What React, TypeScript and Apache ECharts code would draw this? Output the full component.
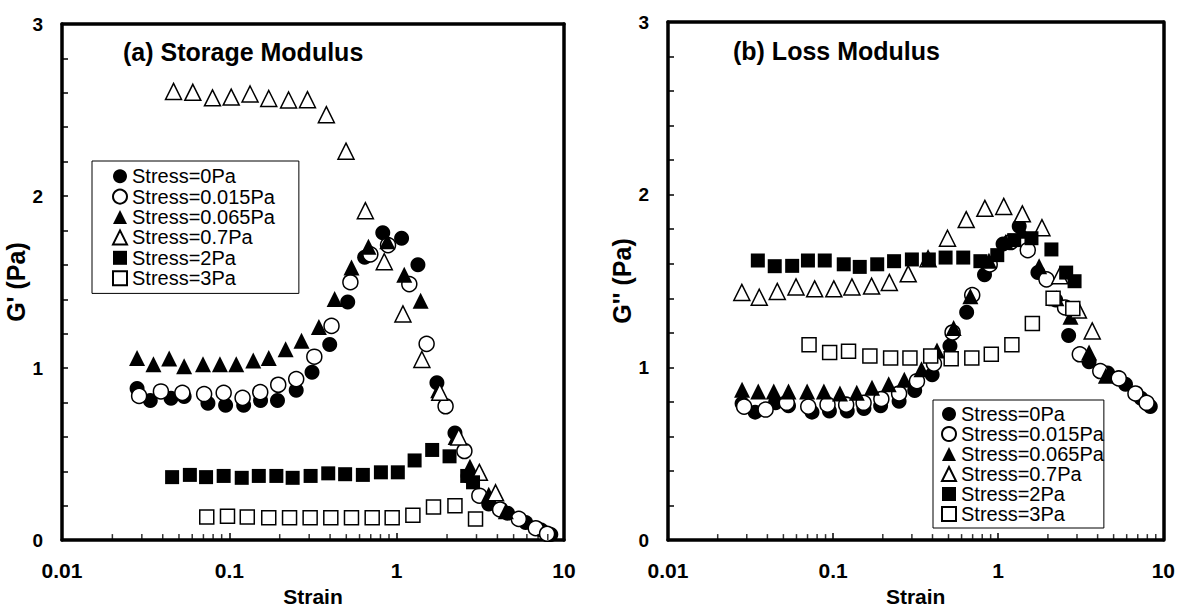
import React, { useEffect, useRef } from "react";
import * as echarts from "echarts";

const FONT = "'Liberation Sans', Arial, Helvetica, sans-serif";

const seriesNames = [
  "Stress=0Pa",
  "Stress=0.015Pa",
  "Stress=0.065Pa",
  "Stress=0.7Pa",
  "Stress=2Pa",
  "Stress=3Pa",
];

// ---------- (a) Storage modulus G' ----------
const gpStrain0 = [0.0281, 0.0337, 0.0448, 0.0537, 0.0745, 0.095, 0.1218, 0.1537, 0.194, 0.251, 0.312, 0.398, 0.51, 0.644, 0.826, 1.07, 1.34, 1.74, 2.23, 2.67, 3.55, 4.6, 5.9, 7.33, 8.34];
const gp0 = [0.881, 0.812, 0.825, 0.834, 0.795, 0.784, 0.784, 0.812, 0.812, 0.871, 0.975, 1.137, 1.384, 1.644, 1.787, 1.754, 1.601, 0.914, 0.622, 0.373, 0.21, 0.156, 0.102, 0.058, 0.032];

const gpStrain015 = [0.0289, 0.039, 0.0524, 0.0707, 0.0925, 0.12, 0.153, 0.196, 0.251, 0.322, 0.408, 0.529, 0.696, 0.888, 1.19, 1.51, 1.96, 2.54, 3.12, 4.15, 5.37, 6.78, 7.92];
const gp015 = [0.838, 0.864, 0.856, 0.849, 0.856, 0.827, 0.86, 0.903, 0.936, 1.066, 1.245, 1.499, 1.661, 1.715, 1.488, 1.141, 0.778, 0.518, 0.258, 0.178, 0.123, 0.069, 0.037];

const gpStrain065 = [0.0281, 0.0352, 0.0437, 0.0537, 0.0696, 0.0879, 0.11, 0.139, 0.172, 0.217, 0.27, 0.343, 0.426, 0.537, 0.678, 0.879, 1.11, 1.39, 1.77, 2.25, 2.74, 3.55, 4.49];
const gp065 = [1.059, 1.022, 1.055, 1.011, 1.022, 1.022, 1.022, 1.044, 1.059, 1.109, 1.159, 1.239, 1.401, 1.585, 1.705, 1.737, 1.542, 1.391, 0.871, 0.6, 0.427, 0.264, 0.167];

const gpStrain07 = [0.0464, 0.0605, 0.0793, 0.1026, 0.133, 0.172, 0.226, 0.293, 0.38, 0.498, 0.65, 0.843, 1.09, 1.415, 1.81, 2.35, 3.12, 3.9];
const gp07 = [2.608, 2.603, 2.571, 2.575, 2.593, 2.567, 2.558, 2.56, 2.473, 2.261, 1.915, 1.618, 1.315, 1.05, 0.86, 0.6, 0.394, 0.275];

const gpStrain2 = [0.0455, 0.0581, 0.0726, 0.0925, 0.1186, 0.15, 0.191, 0.239, 0.306, 0.39, 0.492, 0.628, 0.805, 1.016, 1.28, 1.63, 2.07, 2.64, 2.86];
const gp2 = [0.366, 0.379, 0.366, 0.373, 0.362, 0.373, 0.373, 0.362, 0.373, 0.388, 0.383, 0.379, 0.394, 0.394, 0.463, 0.524, 0.487, 0.373, 0.336];

const gpStrain3 = [0.0733, 0.0975, 0.128, 0.172, 0.229, 0.304, 0.404, 0.537, 0.714, 0.94, 1.25, 1.66, 2.23, 2.96];
const gp3 = [0.134, 0.139, 0.134, 0.13, 0.13, 0.13, 0.13, 0.13, 0.13, 0.13, 0.145, 0.193, 0.199, 0.123];

// ---------- (b) Loss modulus G'' ----------
const gppStrain0 = [0.0281, 0.0337, 0.0448, 0.0537, 0.0745, 0.095, 0.1218, 0.1537, 0.194, 0.251, 0.312, 0.398, 0.51, 0.644, 0.826, 1.07, 1.34, 1.74, 2.23, 2.67, 3.55, 4.6, 5.9, 7.33, 8.34];
const gpp0 = [0.791, 0.741, 0.795, 0.778, 0.741, 0.747, 0.747, 0.762, 0.778, 0.804, 0.866, 0.957, 1.124, 1.319, 1.536, 1.715, 1.817, 1.549, 1.39, 1.185, 1.033, 0.968, 0.903, 0.821, 0.773];

const gppStrain015 = [0.0289, 0.039, 0.0524, 0.0707, 0.0925, 0.12, 0.153, 0.196, 0.251, 0.322, 0.408, 0.529, 0.696, 0.888, 1.19, 1.51, 1.96, 2.54, 3.12, 4.15, 5.37, 6.78, 7.92];
const gpp015 = [0.773, 0.756, 0.795, 0.773, 0.784, 0.784, 0.795, 0.817, 0.849, 0.92, 1.022, 1.202, 1.419, 1.596, 1.726, 1.679, 1.51, 1.347, 1.076, 0.979, 0.936, 0.849, 0.795];

const gppStrain065 = [0.0281, 0.0352, 0.0437, 0.0537, 0.0696, 0.0879, 0.11, 0.139, 0.172, 0.217, 0.27, 0.343, 0.426, 0.537, 0.678, 0.879, 1.11, 1.39, 1.77, 2.25, 2.74, 3.55, 4.49];
const gpp065 = [0.871, 0.86, 0.86, 0.86, 0.86, 0.86, 0.849, 0.853, 0.882, 0.903, 0.929, 0.99, 1.098, 1.228, 1.412, 1.618, 1.726, 1.791, 1.585, 1.401, 1.293, 1.087, 0.951];

const gppStrain07 = [0.028, 0.0357, 0.0459, 0.0596, 0.0773, 0.101, 0.13, 0.171, 0.219, 0.285, 0.376, 0.493, 0.64, 0.83, 1.08, 1.4, 1.84, 2.36, 3.06, 3.71];
const gpp07 = [1.434, 1.406, 1.44, 1.466, 1.455, 1.455, 1.466, 1.471, 1.492, 1.542, 1.629, 1.748, 1.856, 1.921, 1.932, 1.889, 1.809, 1.531, 1.332, 1.211];

const gppStrain2 = [0.035, 0.0443, 0.0565, 0.0704, 0.089, 0.116, 0.145, 0.185, 0.234, 0.3, 0.38, 0.48, 0.614, 0.78, 0.987, 1.25, 1.59, 2.1, 2.58, 2.9];
const gpp2 = [1.619, 1.586, 1.588, 1.619, 1.619, 1.597, 1.582, 1.597, 1.615, 1.625, 1.625, 1.636, 1.636, 1.615, 1.65, 1.737, 1.748, 1.683, 1.549, 1.499];

const gppStrain3 = [0.0715, 0.0953, 0.124, 0.167, 0.223, 0.292, 0.39, 0.519, 0.692, 0.908, 1.21, 1.61, 2.15, 2.83];
const gpp3 = [1.131, 1.087, 1.094, 1.066, 1.055, 1.055, 1.066, 1.05, 1.055, 1.076, 1.131, 1.254, 1.401, 1.341];

// axis tick values
const strainLabels = [0.01, 0.1, 1, 10];
const strainMinorTicks = [
  0.02, 0.03, 0.04, 0.05, 0.06, 0.07, 0.08, 0.09,
  0.2, 0.3, 0.4, 0.5, 0.6, 0.7, 0.8, 0.9,
  2, 3, 4, 5, 6, 7, 8, 9,
];

const zip = (xs: number[], ys: number[]) => xs.map((x, i) => [x, ys[i]]);

const panelData = [
  [
    zip(gpStrain0, gp0),
    zip(gpStrain015, gp015),
    zip(gpStrain065, gp065),
    zip(gpStrain07, gp07),
    zip(gpStrain2, gp2),
    zip(gpStrain3, gp3),
  ],
  [
    zip(gppStrain0, gpp0),
    zip(gppStrain015, gpp015),
    zip(gppStrain065, gpp065),
    zip(gppStrain07, gpp07),
    zip(gppStrain2, gpp2),
    zip(gppStrain3, gpp3),
  ],
];

const markerStyles = [
  { symbol: "circle", size: 15, fill: "#000" },
  { symbol: "circle", size: 15, fill: "#fff" },
  { symbol: "triangle", size: 16, fill: "#000" },
  { symbol: "triangle", size: 16, fill: "#fff" },
  { symbol: "rect", size: 14, fill: "#000" },
  { symbol: "rect", size: 14, fill: "#fff" },
];

function buildOption() {
  const grids = [
    { left: 62, top: 24, width: 502, height: 542 },
    { left: 668, top: 22, width: 499, height: 539 },
  ];
  const yNames = ["G' (Pa)", "G'' (Pa)"];
  const yNameGaps = [24, 31];
  const boldText = { color: "#000", fontWeight: "bold", fontFamily: FONT };
  const frameLine = { show: true, onZero: false, lineStyle: { color: "#000", width: 3.5 } };

  const xAxis: any[] = [];
  const yAxis: any[] = [];
  grids.forEach((_, i) => {
    xAxis.push({
      type: "log",
      logBase: 10,
      min: strainLabels[0],
      max: strainLabels[strainLabels.length - 1],
      gridIndex: i,
      position: "bottom",
      axisLine: frameLine,
      axisTick: { show: true, inside: true, length: 7, lineStyle: { color: "#000", width: 1.5 } },
      axisLabel: { ...boldText, fontSize: 21, margin: 20, formatter: (v: number) => String(v) },
      splitLine: { show: false },
      name: "Strain",
      nameLocation: "middle",
      nameGap: 25,
      nameTextStyle: { ...boldText, fontSize: 21 },
    });
    yAxis.push({
      type: "value",
      min: 0,
      max: 3,
      interval: 1,
      gridIndex: i,
      position: "left",
      axisLine: frameLine,
      axisTick: { show: true, inside: true, length: 6, lineStyle: { color: "#000", width: 1.5 } },
      minorTick: { show: true, splitNumber: 5, length: 6, lineStyle: { color: "#000", width: 1.5 } },
      axisLabel: { ...boldText, fontSize: 19, margin: 19 },
      splitLine: { show: false },
      name: yNames[i],
      nameLocation: "middle",
      nameRotate: 90,
      nameGap: yNameGaps[i],
      nameTextStyle: { ...boldText, fontSize: 25 },
    });
  });
  // frame: top and right edges
  grids.forEach((_, i) => {
    xAxis.push({
      type: "log",
      logBase: 10,
      min: strainLabels[0],
      max: strainLabels[strainLabels.length - 1],
      gridIndex: i,
      position: "top",
      axisLine: frameLine,
      axisTick: { show: false },
      axisLabel: { show: false },
      splitLine: { show: false },
    });
    yAxis.push({
      type: "value",
      min: 0,
      max: 3,
      interval: 1,
      gridIndex: i,
      position: "right",
      axisLine: frameLine,
      axisTick: { show: false },
      axisLabel: { show: false },
      splitLine: { show: false },
    });
  });

  const series: any[] = [];
  panelData.forEach((sets, p) => {
    sets.forEach((data, s) => {
      const m = markerStyles[s];
      series.push({
        type: "scatter",
        name: seriesNames[s],
        xAxisIndex: p,
        yAxisIndex: p,
        symbol: m.symbol,
        symbolSize: m.size,
        itemStyle: { color: m.fill, borderColor: "#000", borderWidth: m.fill === "#fff" ? 1.5 : 0, opacity: 1 },
        data,
        clip: false,
        z: 2,
      });
    });
    series.push({
      type: "scatter",
      name: "minorTicks",
      xAxisIndex: p,
      yAxisIndex: p,
      silent: true,
      clip: false,
      symbol: "rect",
      symbolSize: [1.5, 6],
      symbolOffset: [0, -3],
      itemStyle: { color: "#000" },
      data: strainMinorTicks.map((v) => [v, 0]),
      z: 5,
    });
  });

  const legendBase = {
    data: seriesNames,
    orient: "vertical",
    itemWidth: 14,
    itemHeight: 14,
    itemGap: 0,
    borderColor: "#000",
    borderWidth: 1,
    backgroundColor: "#fff",
    selectedMode: false,
  };

  return {
    animation: false,
    backgroundColor: "#fff",
    title: [
      {
        text: "(a) Storage Modulus",
        left: 123,
        top: 39,
        padding: 0,
        textStyle: { ...boldText, fontSize: 25 },
      },
      {
        text: "(b) Loss Modulus",
        left: 733,
        top: 38,
        padding: 0,
        textStyle: { ...boldText, fontSize: 25 },
      },
    ],
    grid: grids.map((g) => ({ ...g, show: false })),
    legend: [
      {
        ...legendBase,
        left: 92,
        top: 161,
        padding: [5, 24, 5, 20],
        textStyle: { fontSize: 20, fontFamily: FONT, color: "#000", lineHeight: 20.4 },
      },
      {
        ...legendBase,
        left: 933,
        top: 400,
        padding: [4, 0, 4, 8],
        textStyle: { fontSize: 20, fontFamily: FONT, color: "#000", lineHeight: 19.4 },
      },
    ],
    xAxis,
    yAxis,
    series,
  };
}

export default function App() {
  const ref = useRef<HTMLDivElement>(null);
  useEffect(() => {
    document.body.style.margin = "0";
    const chart = echarts.init(ref.current as HTMLDivElement, null, { renderer: "svg" });
    chart.setOption(buildOption() as any);
    return () => {
      chart.dispose();
    };
  }, []);
  return <div ref={ref} style={{ width: 1178, height: 612 }} />;
}
